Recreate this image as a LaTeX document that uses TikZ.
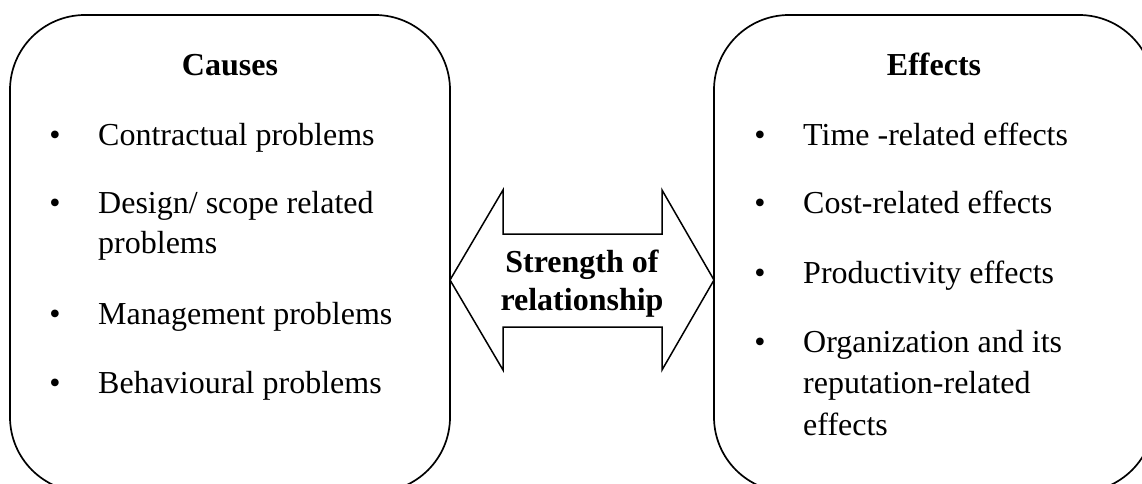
\documentclass[tikz,border=0pt]{standalone}
\usepackage{fontspec}
\setmainfont{Liberation Serif}
\begin{document}
\begin{tikzpicture}[x=1pt,y=-1pt,
  panel/.style={draw, line width=1.7pt, rounded corners=75pt, inner sep=0pt},
  linkshape/.style={draw, line width=1.5pt, line join=miter},
  title/.style={font=\fontsize{32}{38}\selectfont\bfseries, anchor=base, inner sep=0pt},
  item/.style={font=\fontsize{32}{40}\selectfont, anchor=base west, inner sep=0pt},
  bullet/.style={font=\fontsize{32}{40}\selectfont, anchor=base, inner sep=0pt}]
\useasboundingbox (0,0) rectangle (1142,484);

% the two panels
\node[panel, minimum width=440pt, minimum height=477pt] (causes) at (230,253.5) {};
\node[panel, minimum width=440pt, minimum height=477pt] (effects) at (934,253.5) {};

% double-headed arrow between the panels
\coordinate (ltip) at (450,280);
\coordinate (rtip) at (714,280);
\draw[linkshape] (ltip) -- (503,190) -- (503,234) -- (662,234) -- (662,190)
  -- (rtip) -- (662,370) -- (662,327) -- (503,327) -- (503,370) -- cycle;
\node[title] (rel1) at (582,272) {Strength of};
\node[title] (rel2) at (582,310) {relationship};

% causes
\node[title] (ctitle) at (230,76) {Causes};
\node[bullet] (cb1) at (55,146) {•};
\node[item] (c1) at (98,146) {Contractual problems};
\node[bullet] (cb2) at (55,213) {•};
\node[item] (c2a) at (98,213) {Design/ scope related};
\node[item] (c2b) at (98,253) {problems};
\node[bullet] (cb3) at (55,324) {•};
\node[item] (c3) at (98,324) {Management problems};
\node[bullet] (cb4) at (55,393) {•};
\node[item] (c4) at (98,393) {Behavioural problems};

% effects
\node[title] (etitle) at (934,76) {Effects};
\node[bullet] (eb1) at (760,145) {•};
\node[item] (e1) at (803,145) {Time -related effects};
\node[bullet] (eb2) at (760,213) {•};
\node[item] (e2) at (803,213) {Cost-related effects};
\node[bullet] (eb3) at (760,283) {•};
\node[item] (e3) at (803,283) {Productivity effects};
\node[bullet] (eb4) at (760,352) {•};
\node[item] (e4a) at (803,352) {Organization and its};
\node[item] (e4b) at (803,393) {reputation-related};
\node[item] (e4c) at (803,435) {effects};
\end{tikzpicture}
\end{document}
